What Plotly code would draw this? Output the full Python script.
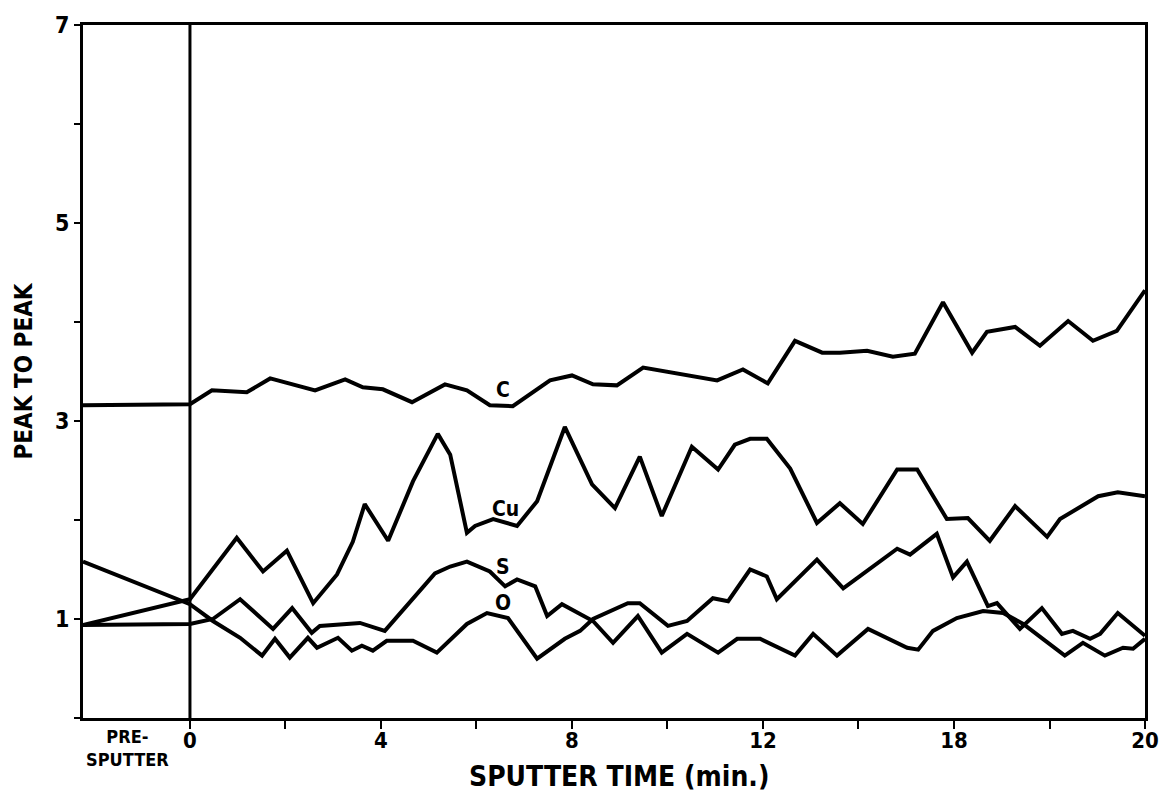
import plotly.graph_objects as go

# ---- data ----
c_x = [-2.24, 0, 0.46, 1.19, 1.68, 2.62, 3.25, 3.62, 4.04, 4.65, 5.34, 5.80, 6.28, 6.76,
       7.54, 8.0, 8.44, 8.94, 9.49, 11.04, 11.58, 12.10, 12.67, 13.24, 13.61, 14.18,
       14.72, 15.18, 15.77, 16.38, 16.69, 17.28, 17.80, 18.39, 18.91, 19.41, 20.0]
c_y = [3.16, 3.17, 3.31, 3.29, 3.43, 3.31, 3.42, 3.34, 3.32, 3.19, 3.37, 3.31, 3.16, 3.15,
       3.41, 3.46, 3.37, 3.36, 3.54, 3.41, 3.52, 3.38, 3.81, 3.69, 3.69, 3.71,
       3.65, 3.68, 4.20, 3.69, 3.90, 3.95, 3.76, 4.01, 3.81, 3.91, 4.32]

cu_x = [-2.24, 0, 0.98, 1.53, 2.03, 2.58, 3.08, 3.41, 3.66, 4.15, 4.67, 5.19, 5.45, 5.80,
        5.97, 6.35, 6.85, 7.27, 7.85, 8.42, 8.90, 9.42, 9.88, 10.51, 11.06, 11.41, 11.73,
        12.08, 12.57, 13.13, 13.61, 14.09, 14.81, 15.23, 15.85, 16.29, 16.75, 17.28,
        17.95, 18.22, 19.02, 19.43, 20.0]
cu_y = [0.94, 1.20, 1.82, 1.48, 1.69, 1.16, 1.45, 1.78, 2.16, 1.79, 2.39, 2.87, 2.66, 1.87,
        1.94, 2.01, 1.94, 2.19, 2.94, 2.36, 2.12, 2.64, 2.04, 2.74, 2.51, 2.76, 2.82,
        2.82, 2.52, 1.97, 2.17, 1.96, 2.51, 2.51, 2.01, 2.02, 1.79, 2.14,
        1.83, 2.01, 2.24, 2.28, 2.24]

s_x = [-2.24, 0, 0.48, 1.05, 1.74, 2.14, 2.55, 2.72, 3.56, 4.08, 5.13, 5.45, 5.80, 6.28,
       6.60, 6.85, 7.23, 7.48, 7.79, 8.17, 8.44, 8.86, 9.38, 9.88, 10.41, 11.06, 11.46,
       11.94, 12.67, 13.05, 13.55, 14.2, 15.02, 15.25, 15.56, 16.06, 16.61, 17.03, 17.45,
       17.86, 18.32, 18.70, 19.16, 19.54, 19.75, 20.0]
s_y = [0.94, 0.95, 1.00, 1.20, 0.90, 1.11, 0.86, 0.93, 0.96, 0.88, 1.46, 1.53, 1.58, 1.48,
       1.33, 1.40, 1.33, 1.03, 1.15, 1.05, 0.98, 0.76, 1.03, 0.66, 0.85, 0.66, 0.80,
       0.80, 0.63, 0.85, 0.63, 0.90, 0.71, 0.69, 0.88, 1.01, 1.08, 1.06, 0.95,
       0.80, 0.63, 0.76, 0.63, 0.71, 0.70, 0.80]

o_x = [-2.24, 0, 0.48, 1.05, 1.51, 1.78, 2.09, 2.47, 2.66, 3.10, 3.39, 3.60, 3.83, 4.12,
       4.67, 5.17, 5.80, 6.22, 6.66, 7.27, 7.85, 8.17, 8.44, 9.17, 9.42, 10.01, 10.41,
       10.95, 11.27, 11.73, 12.08, 12.29, 13.13, 13.68, 13.88, 14.81, 15.08, 15.64, 15.98,
       16.27, 16.71, 16.9, 17.38, 17.84, 18.26, 18.49, 18.85, 19.06, 19.43, 20.0]
o_y = [1.58, 1.15, 0.98, 0.81, 0.63, 0.80, 0.61, 0.81, 0.71, 0.81, 0.68, 0.73, 0.68, 0.78,
       0.78, 0.66, 0.95, 1.06, 1.01, 0.60, 0.80, 0.88, 1.00, 1.16, 1.16, 0.93, 0.98,
       1.21, 1.18, 1.50, 1.43, 1.20, 1.60, 1.31, 1.38, 1.71, 1.65, 1.86, 1.42,
       1.58, 1.13, 1.16, 0.90, 1.11, 0.85, 0.88, 0.80, 0.85, 1.06, 0.83]

label_text = ["C", "Cu", "S", "O"]
label_x = [6.55, 6.6, 6.55, 6.55]
label_y = [3.31, 2.11, 1.53, 1.16]

x_tickvals = [0, 2, 4, 6, 8, 10, 12, 14, 16, 18, 20]
x_ticktext = ["0", "", "4", "", "8", "", "12", "", "18", "", "20"]
y_tickvals = [0, 1, 2, 3, 4, 5, 6, 7]
y_ticktext = ["", "1", "", "3", "", "5", "", "7"]

FONT = "DejaVu Sans Condensed, Liberation Sans Narrow, Liberation Sans, Arial, sans-serif"

fig = go.Figure()
for xs, ys in [(c_x, c_y), (cu_x, cu_y), (s_x, s_y), (o_x, o_y)]:
    fig.add_trace(go.Scatter(x=xs, y=ys, mode="lines",
                             line=dict(color="black", width=4),
                             hoverinfo="skip", showlegend=False))

for t, x, y in zip(label_text, label_x, label_y):
    fig.add_annotation(x=x, y=y, text=t, showarrow=False, xref="x", yref="y",
                       font=dict(family=FONT, size=21, color="black", weight="bold"))

# vertical line at start of sputtering
fig.add_shape(type="line", x0=0, x1=0, y0=0, y1=7, xref="x", yref="y",
              line=dict(color="black", width=3))

fig.add_annotation(x=-1.3, y=-0.008, xref="x", yref="paper", yanchor="top",
                   text="PRE-<br>SPUTTER", showarrow=False, align="center",
                   font=dict(family=FONT, size=18, color="black", weight="bold"))

fig.add_annotation(x=8.98, y=-0.058, xref="x", yref="paper", yanchor="top",
                   text="SPUTTER TIME (min.)", showarrow=False,
                   font=dict(family=FONT, size=28, color="black", weight="bold"))

fig.update_layout(
    width=1171, height=795,
    margin=dict(l=83, r=26, t=20, b=77),
    paper_bgcolor="white", plot_bgcolor="white",
    xaxis=dict(range=[-2.24, 20], tickvals=x_tickvals, ticktext=x_ticktext,
               showgrid=False, zeroline=False, showline=True, mirror=True,
               linecolor="black", linewidth=3, ticks="outside", ticklen=8,
               tickwidth=2, tickcolor="black", ticklabelstandoff=-7,
               tickfont=dict(family=FONT, size=22, color="black", weight="bold")),
    yaxis=dict(range=[0, 7], tickvals=y_tickvals, ticktext=y_ticktext,
               showgrid=False, zeroline=False, showline=True, mirror=True,
               linecolor="black", linewidth=3, ticks="outside", ticklen=6,
               tickwidth=2, tickcolor="black",
               tickfont=dict(family=FONT, size=23, color="black", weight="bold"),
               title=dict(text="PEAK TO PEAK", standoff=16,
                          font=dict(family=FONT, size=24, color="black", weight="bold"))),
)

fig.write_html("out.html")
